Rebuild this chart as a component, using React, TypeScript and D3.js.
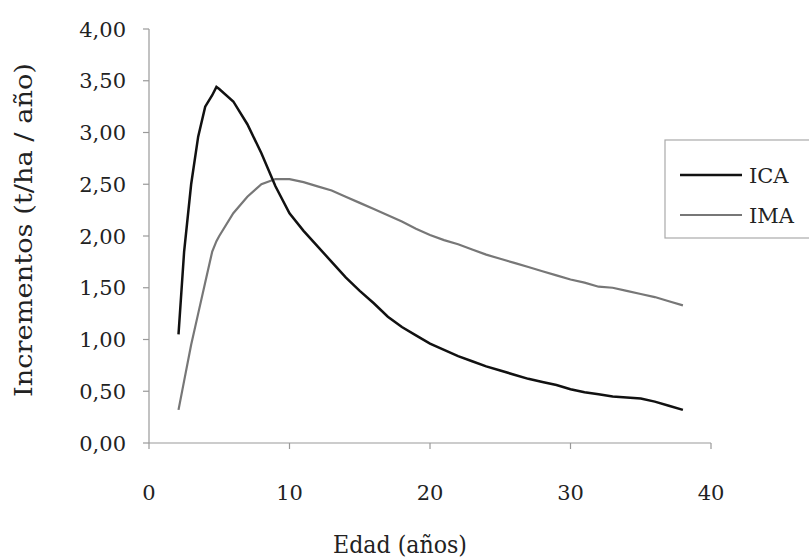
import React from "react";
import * as d3 from "d3";

const ages = [2.1, 2.5, 3, 3.5, 4, 4.5, 4.8, 5, 6, 7, 8, 9, 10, 11, 12, 13, 14, 15, 16, 17, 18, 19, 20, 21, 22, 23, 24, 25, 26, 27, 28, 29, 30, 31, 32, 33, 34, 35, 36, 37, 38];
const ica = [1.05, 1.85, 2.5, 2.96, 3.25, 3.36, 3.44, 3.42, 3.3, 3.08, 2.8, 2.48, 2.22, 2.05, 1.9, 1.75, 1.6, 1.47, 1.35, 1.22, 1.12, 1.04, 0.96, 0.9, 0.84, 0.79, 0.74, 0.7, 0.66, 0.62, 0.59, 0.56, 0.52, 0.49, 0.47, 0.45, 0.44, 0.43, 0.4, 0.36, 0.32];
const ima = [0.32, 0.6, 0.95, 1.25, 1.55, 1.85, 1.95, 2.0, 2.22, 2.38, 2.5, 2.55, 2.55, 2.52, 2.48, 2.44, 2.38, 2.32, 2.26, 2.2, 2.14, 2.07, 2.01, 1.96, 1.92, 1.87, 1.82, 1.78, 1.74, 1.7, 1.66, 1.62, 1.58, 1.55, 1.51, 1.5, 1.47, 1.44, 1.41, 1.37, 1.33];
const xTicks = [0, 10, 20, 30, 40];
const yTicks = [0, 0.5, 1, 1.5, 2, 2.5, 3, 3.5, 4];
const seriesNames = ["ICA", "IMA"];

const W = 809;
const H = 558;
const FONT = "'DejaVu Serif', 'Liberation Serif', serif";

export default function App() {
  const x = d3.scaleLinear().domain([0, 40]).range([149, 711]);
  const y = d3.scaleLinear().domain([0, 4]).range([443, 29]);
  const fmt = (v: number) => v.toFixed(2).replace(".", ",");
  const lineIca = d3.line<number>().x((_, i) => x(ages[i])).y((d) => y(d));
  const lineIma = d3.line<number>().x((_, i) => x(ages[i])).y((d) => y(d));
  const axisColor = "#999";
  return (
    <svg width={W} height={H} style={{ position: "absolute", left: 0, top: 0, background: "#fff" }}>
      <rect x={0} y={0} width={W} height={H} fill="#fff" />
      {/* y axis */}
      <line x1={x(0)} x2={x(0)} y1={y(4)} y2={y(0)} stroke={axisColor} strokeWidth={1.2} />
      {yTicks.map((t) => (
        <g key={"y" + t}>
          <line x1={x(0) - 6} x2={x(0)} y1={y(t)} y2={y(t)} stroke={axisColor} strokeWidth={1.2} />
          <text x={126} y={y(t)} dy="0.36em" textAnchor="end" fontFamily={FONT} fontSize={21} fill="#222">
            {fmt(t)}
          </text>
        </g>
      ))}
      {/* x axis */}
      <line x1={x(0)} x2={x(40)} y1={y(0)} y2={y(0)} stroke={axisColor} strokeWidth={1.2} />
      {xTicks.map((t) => (
        <g key={"x" + t}>
          <line x1={x(t)} x2={x(t)} y1={y(0)} y2={y(0) + 6} stroke={axisColor} strokeWidth={1.2} />
          <text x={x(t)} y={500} textAnchor="middle" fontFamily={FONT} fontSize={21} fill="#222">
            {t}
          </text>
        </g>
      ))}
      <text x={333} y={553} textLength={134} lengthAdjust="spacingAndGlyphs" fontFamily={FONT} fontSize={24} fill="#222">
        Edad (años)
      </text>
      <text
        transform={`translate(32,397) rotate(-90)`}
        textLength={334}
        lengthAdjust="spacingAndGlyphs"
        fontFamily={FONT}
        fontSize={24}
        fill="#222"
      >
        Incrementos (t/ha / año)
      </text>
      {/* series */}
      <path d={lineIma(ima) || ""} fill="none" stroke="#777" strokeWidth={2.2} />
      <path d={lineIca(ica) || ""} fill="none" stroke="#111" strokeWidth={2.5} />
      {/* legend */}
      <rect x={665} y={140} width={150} height={98} fill="#fff" stroke="#aaa" strokeWidth={1.2} />
      <line x1={680} x2={742} y1={175} y2={175} stroke="#111" strokeWidth={2.5} />
      <text x={749} y={175} dy="0.36em" fontFamily={FONT} fontSize={21} fill="#222">
        {seriesNames[0]}
      </text>
      <line x1={680} x2={742} y1={215} y2={215} stroke="#777" strokeWidth={2.2} />
      <text x={749} y={215} dy="0.36em" fontFamily={FONT} fontSize={21} fill="#222">
        {seriesNames[1]}
      </text>
    </svg>
  );
}
